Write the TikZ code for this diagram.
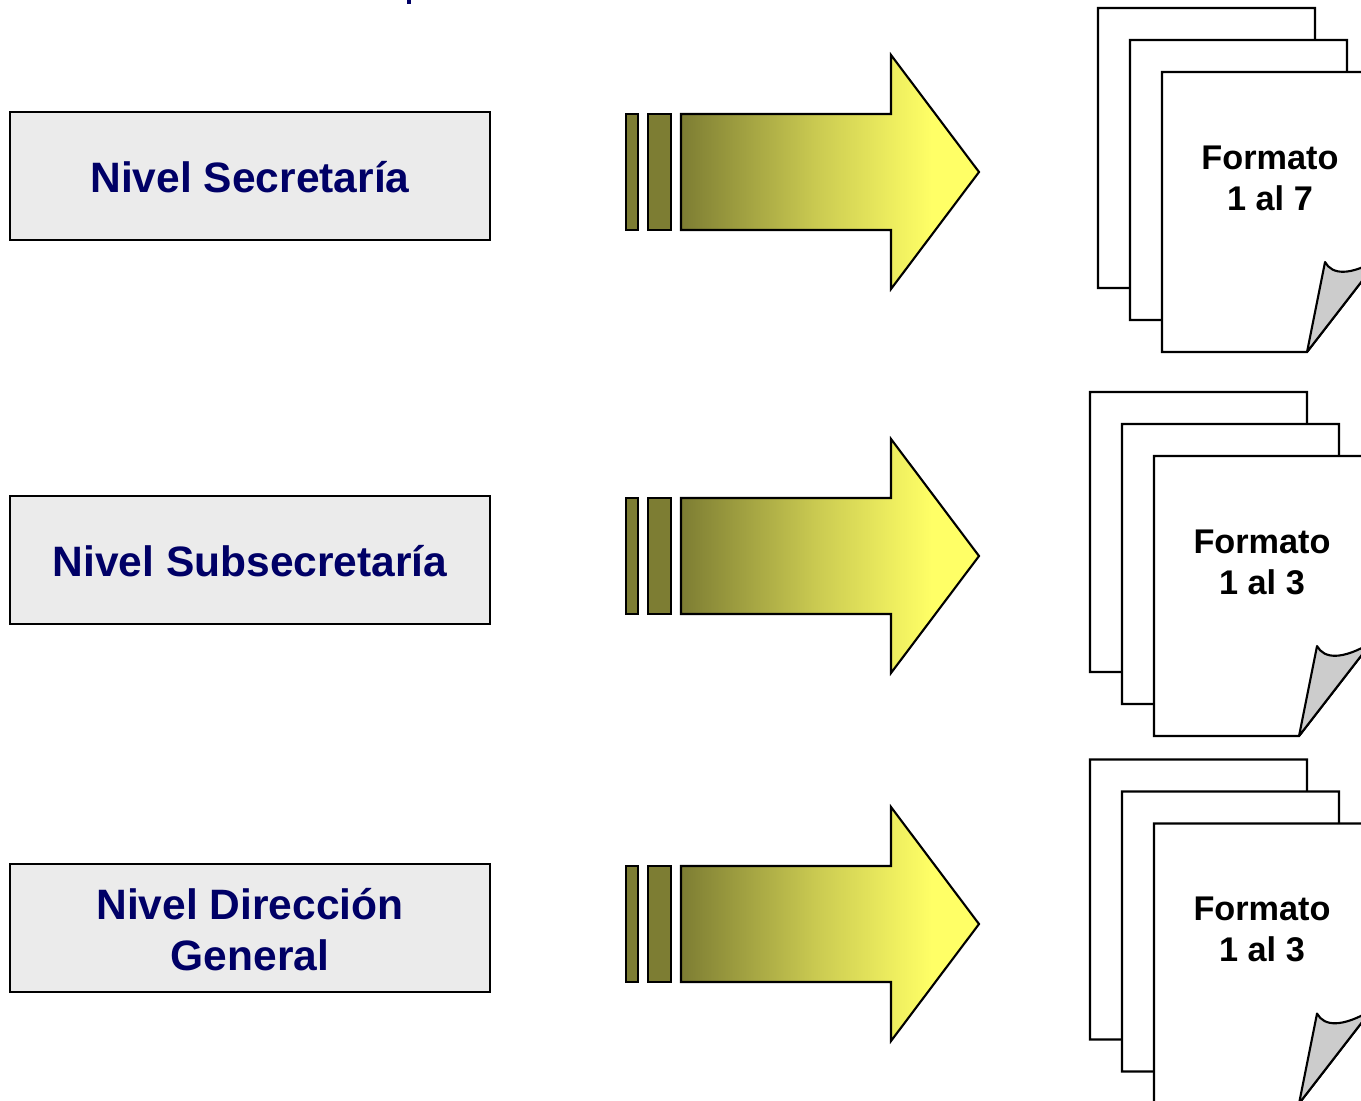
\documentclass[tikz,border=0pt]{standalone}
\usepackage{fontspec}
\setmainfont{Liberation Sans}
\usepackage{tikz}

\definecolor{navytext}{HTML}{000066}
\definecolor{boxgray}{HTML}{EBEBEB}
\definecolor{olivebar}{HTML}{7D7D33}
\definecolor{arrowyellow}{HTML}{FFFF66}
\definecolor{foldgray}{HTML}{CCCCCC}

\pgfdeclarehorizontalshading{arrowfade}{100bp}{
	color(0bp)=(olivebar); color(25bp)=(olivebar);
	color(48bp)=(olivebar!40!arrowyellow); color(67bp)=(arrowyellow); color(100bp)=(arrowyellow)}

\tikzset{
	level box/.style={draw=black, fill=boxgray, line width=1.2pt, minimum width=273pt, minimum height=72.6pt, inner sep=0pt},
	level text/.style={align=center, inner sep=0pt, text=navytext, font=\fontsize{24.2}{29}\selectfont\bfseries},
	bar/.style={draw=black, fill=olivebar, line width=1.2pt},
	sheet/.style={draw=black, fill=white, line width=1.2pt},
	page text/.style={align=center, inner sep=0pt, font=\fontsize{19.5}{23.3}\selectfont\bfseries}
}

\begin{document}
\begin{tikzpicture}[x=0.02cm, y=-0.02cm]
\clip (0,0) rectangle (1361,1100);
\fill[navytext] (407,0) rectangle (411,4);
\foreach \nm/\dx/\dy/\py/\lab/\form in {a/0/0/0/{Nivel Secretaría}/{1 al 7},
	b/-8/384/384/{Nivel Subsecretaría}/{1 al 3},
	c/-8/752/751.5/{Nivel Dirección\\General}/{1 al 3}} {
	\node [level box] (box\nm) at (250,176+\dy) {};
	\node [level text] (lab\nm) at (250,177.5+\dy) {\lab};
	\begin{scope}[yshift={-0.02cm*\dy}]
		% bars and arrow
		\draw [bar] (626,114) rectangle (638,230);
		\draw [bar] (648,114) rectangle (671,230);
		\path [shading=arrowfade, draw=black, line width=1.2pt, line join=miter]
			(681,114) -- (891,114) -- (891,55) -- (979,172) -- (891,289) -- (891,230) -- (681,230) -- cycle;
	\end{scope}
	\begin{scope}[xshift={0.02cm*\dx}, yshift={-0.02cm*\py}]
		% pile of sheets
		\foreach \i in {0,32,64} {
			\draw [sheet] (1098+\i,8+\i) -- (1315+\i,8+\i) -- (1315+\i,195+\i) -- (1243+\i,288+\i) -- (1098+\i,288+\i) -- cycle;
		}
		\draw [draw=black, fill=foldgray, line width=1.2pt, line join=round] (1307,352) -- (1325,262)
			.. controls (1332,275) and (1350,276) .. (1379,259) -- cycle;
		\node [page text] (form\nm) at (1270,178) {Formato\\\form};
	\end{scope}
}
\end{tikzpicture}
\end{document}
